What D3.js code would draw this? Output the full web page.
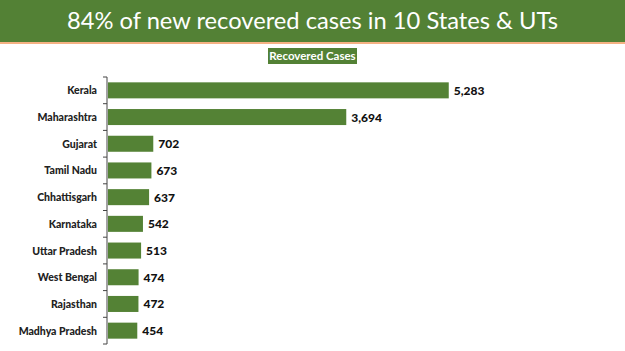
<!DOCTYPE html>
<html>
<head>
<meta charset="utf-8">
<script src="https://cdn.jsdelivr.net/npm/d3@7"></script>
<style>
  body { margin: 0; background: #fff; }
  svg { display: block; }
</style>
</head>
<body>
<div id="chart"></div>
<script>
//Chart data
const states = ["Kerala", "Maharashtra", "Gujarat", "Tamil Nadu", "Chhattisgarh", "Karnataka", "Uttar Pradesh", "West Bengal", "Rajasthan", "Madhya Pradesh"];
const recovered = [5283, 3694, 702, 673, 637, 542, 513, 474, 472, 454];
const titleText = "84% of new recovered cases in 10 States & UTs";
const seriesName = "Recovered Cases";

const width = 625;
const height = 351;
const green = "#538135";

const svg = d3.select("#chart").append("svg").attr("width", width).attr("height", height);

//Header band
svg.append("rect").attr("x", 0).attr("y", 0).attr("width", width).attr("height", 42).attr("fill", green);
svg.append("rect").attr("x", 0).attr("y", 42).attr("width", width).attr("height", 2).attr("fill", "#f4b183");
svg.append("text").attr("x", width / 2).attr("y", 29).attr("text-anchor", "middle")
  .attr("fill", "#fff").style("font-family", "Lato, sans-serif").style("font-size", "24px")
  .attr("textLength", 491).attr("lengthAdjust", "spacingAndGlyphs")
  .text(titleText);

//Legend label box
const lg = svg.append("g");
lg.append("rect").attr("x", 268).attr("y", 48).attr("width", 89).attr("height", 16).attr("fill", green);
lg.append("text").attr("x", 312.5).attr("y", 60).attr("text-anchor", "middle").attr("fill", "#fff")
  .style("font-family", "Lato, sans-serif").style("font-weight", "bold").style("font-size", "11.5px")
  .text(seriesName);

//Scales
const x = d3.scaleLinear().domain([0, 6000]).range([107, 494]);
const y = d3.scaleBand().domain(states).range([77, 344]).paddingInner(0.4).paddingOuter(0.2);

//Axis line with ticks at band boundaries
const bounds = states.map(s => y(s) - y.step() * y.paddingInner() / 2);
bounds.push(344);
svg.append("line").attr("x1", 107).attr("x2", 107).attr("y1", 77).attr("y2", 344).attr("stroke", "#444").attr("stroke-width", 1);
svg.selectAll(".tick").data(bounds).enter().append("line")
  .attr("x1", 103).attr("x2", 107).attr("y1", d => d).attr("y2", d => d)
  .attr("stroke", "#444");

//Bars
svg.selectAll(".bar").data(states).enter().append("rect")
  .attr("x", x(0) + 1)
  .attr("y", d => y(d))
  .attr("width", (d, i) => x(recovered[i]) - x(0))
  .attr("height", y.bandwidth())
  .attr("fill", "#548235");

//Category labels
svg.selectAll(".cat").data(states).enter().append("text")
  .attr("x", 97).attr("y", d => y(d) + y.bandwidth() / 2 + 4)
  .attr("text-anchor", "end")
  .style("font-family", "Lato, sans-serif").style("font-weight", "900").style("font-size", "10.5px")
  .attr("fill", "#222")
  .text(d => d);

//Value labels
svg.selectAll(".val").data(states).enter().append("text")
  .attr("x", (d, i) => x(recovered[i]) + 6).attr("y", d => y(d) + y.bandwidth() / 2 + 4.5)
  .style("font-family", "Lato, sans-serif").style("font-weight", "900").style("font-size", "12px")
  .attr("fill", "#111")
  .text((d, i) => d3.format(",")(recovered[i]));
</script>
</body>
</html>
